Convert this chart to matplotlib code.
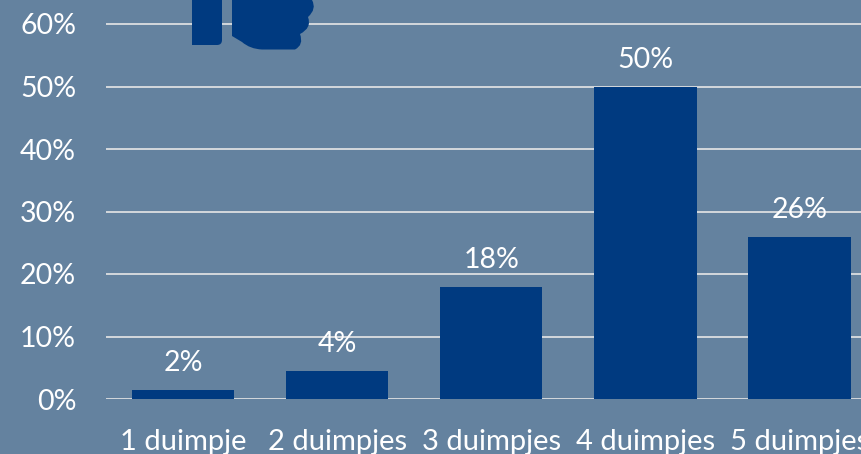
import matplotlib.pyplot as plt
from matplotlib.patches import PathPatch
from matplotlib.path import Path
from matplotlib.transforms import Affine2D

categories = ['1 duimpje', '2 duimpjes', '3 duimpjes', '4 duimpjes', '5 duimpjes']
values = [1.5, 4.5, 18, 50, 26]
bar_labels = ['2%', '4%', '18%', '50%', '26%']
yticks = [0, 10, 20, 30, 40, 50, 60]

bg = '#64829f'
bar_color = '#003a80'
grid_color = '#d4d8dc'
text_color = 'white'

plt.rcParams['font.family'] = ['Lato', 'DejaVu Sans']

fig = plt.figure(figsize=(8.61, 4.54), dpi=100, facecolor=bg)
ax = fig.add_axes([106 / 861, 55 / 454, 755 / 861, 399 / 454], facecolor=bg)

x = range(len(categories))
ax.bar(x, values, width=0.665, color=bar_color, zorder=3)

for i in x:
    ax.annotate(bar_labels[i], (i, values[i]), xytext=(0, 19), textcoords='offset points',
                ha='center', va='center', color=text_color, fontsize=20.5, zorder=4)

ax.set_xlim(-0.5, 4.4)
ax.set_ylim(0, 63.84)
ax.set_yticks(yticks)
ax.set_yticklabels([str(t) + '%' for t in yticks])
ax.set_xticks(list(x))
ax.set_xticklabels(categories)
ax.tick_params(axis='y', length=0, colors=text_color, labelsize=20.5, pad=21.5)
ax.tick_params(axis='x', length=0, colors=text_color, labelsize=21, pad=21.5)

ax.grid(axis='y', color=grid_color, linewidth=1.4, zorder=1)
ax.set_axisbelow(True)
for s in ax.spines.values():
    s.set_visible(False)

# thumb icon, clipped by the top of the picture (pixel coords, y down)
px = Affine2D().scale(1 / 861, -1 / 454).translate(0, 1) + fig.transFigure

M, L, C, Z = Path.MOVETO, Path.LINETO, Path.CURVE3, Path.CLOSEPOLY
thumb = Path([(192, -2), (222, -2), (222, 40), (222, 45), (217, 45), (192, 45), (192, -2)],
             [M, L, L, C, C, L, Z])
fist = Path([(232, -2), (312, -2), (312, 0),
             (317, 9), (308, 17),
             (312, 28), (300, 34),
             (304, 45), (295, 49.5),
             (262, 49.5), (262, 49.5), (250, 49), (242, 42), (232, 36), (232, -2)],
            [M, L, L, C, C, C, C, C, C, L, L, C, C, L, Z])
for shape in (thumb, fist):
    fig.add_artist(PathPatch(shape, facecolor=bar_color, edgecolor='none', transform=px))

fig.savefig('out.png', dpi=100, facecolor=bg)
